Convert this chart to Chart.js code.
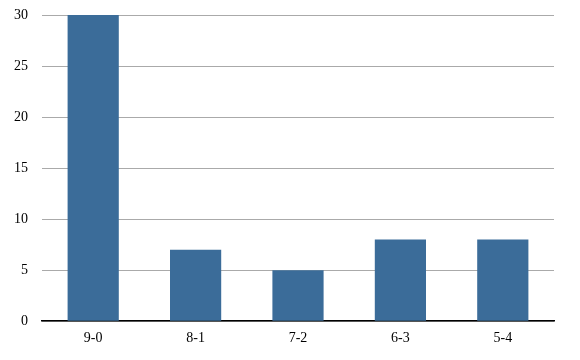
<!DOCTYPE html>
<html>
<head>
<meta charset="utf-8">
<script src="https://cdn.jsdelivr.net/npm/chart.js@4"></script>
<style>
  html, body { margin: 0; padding: 0; background: #fff; }
  canvas { display: block; }
</style>
</head>
<body>
<canvas id="grafica" width="580" height="360"></canvas>
<script>
const etiquetas = ["9-0", "8-1", "7-2", "6-3", "5-4"]
const valores = [30, 7, 5, 8, 8]
const ticksY = [0, 5, 10, 15, 20, 25, 30]

const fuente = { family: "'Liberation Serif', 'DejaVu Serif', serif", size: 14 }

new Chart(document.querySelector('#grafica'), {
    type: 'bar',
    data: {
        labels: etiquetas,
        datasets: [{
            data: valores,
            backgroundColor: '#3b6c99',
            categoryPercentage: 1,
            barPercentage: 0.5
        }]
    },
    options: {
        responsive: false,
        animation: false,
        layout: { padding: { top: 15, right: 26, bottom: 4, left: 10 } },
        plugins: { legend: { display: false }, tooltip: { enabled: false } },
        scales: {
            x: {
                grid: { display: false, drawTicks: false },
                border: { color: '#000', width: 1.5 },
                ticks: { color: '#000', font: fuente, padding: 9 }
            },
            y: {
                min: 0,
                max: 30,
                afterBuildTicks: (eje) => { eje.ticks = ticksY.map(v => ({ value: v })) },
                grid: { color: '#aaa', drawTicks: true, tickLength: 10, tickColor: 'rgba(0,0,0,0)' },
                border: { display: false },
                ticks: { color: '#000', font: fuente, padding: 4 }
            }
        }
    }
})
</script>
</body>
</html>
